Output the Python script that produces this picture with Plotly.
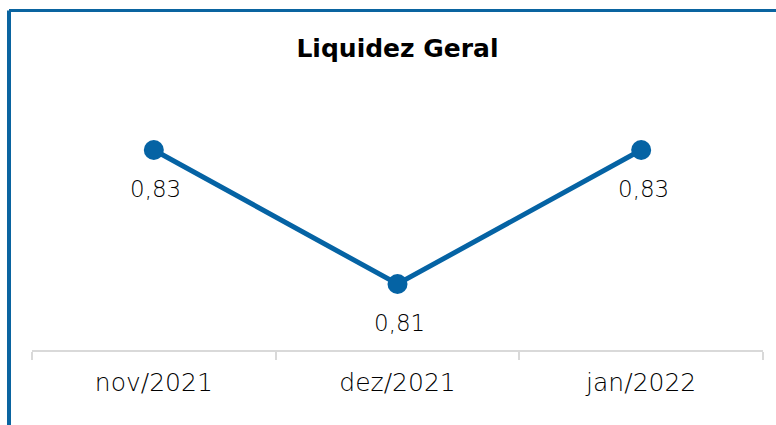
import plotly.graph_objects as go

categories = ["nov/2021", "dez/2021", "jan/2022"]
values = [0.83, 0.81, 0.83]
labels = ["0,83", "0,81", "0,83"]
title_text = "Liquidez Geral"

W, H = 776, 425
L, R, T, B = 32, 13, 100, 75
pw = W - L - R
ph = H - T - B

blue_line = "#0563A4"
blue_border = "#0A64A0"
font_family = "DejaVu Sans"
light_family = "DejaVu Sans ExtraLight, DejaVu Sans Light, DejaVu Sans"

fig = go.Figure()
fig.add_trace(go.Scatter(
    x=categories, y=values,
    mode="lines+markers",
    line=dict(color=blue_line, width=5),
    marker=dict(color=blue_line, size=20),
    hoverinfo="skip",
))
for c, v, t in zip(categories, values, labels):
    fig.add_annotation(x=c, y=v, text=t, showarrow=False,
                       yshift=-39, xshift=2,
                       font=dict(family=light_family, size=23, color="#000000"))

# border (left and top of the cropped chart frame), in paper coords
bx = (9 - L) / pw
by = (H - B - 10.5) / ph
fig.add_shape(type="line", xref="paper", yref="paper",
              x0=bx, x1=bx, y0=by, y1=-1, line=dict(color=blue_border, width=4))
fig.add_shape(type="line", xref="paper", yref="paper",
              x0=bx, x1=2, y0=by, y1=by, line=dict(color=blue_border, width=3))

fig.update_layout(
    width=W, height=H,
    margin=dict(l=L, r=R, t=T, b=B),
    paper_bgcolor="white", plot_bgcolor="white",
    showlegend=False,
    title=dict(text="<b>" + title_text + "</b>", x=0.5, xref="paper", xanchor="center",
               y=1 - 48 / H, yanchor="middle",
               font=dict(family=font_family, size=25, color="#000000")),
    xaxis=dict(type="category", range=[-0.5, 2.5], showgrid=False, zeroline=False,
               showline=True, linecolor="#d9d9d9", linewidth=1.5,
               ticks="outside", tickson="boundaries", ticklen=8, tickcolor="#d9d9d9",
               tickwidth=1.5, ticklabelstandoff=9,
               tickfont=dict(family=light_family, size=25, color="#000000")),
    yaxis=dict(visible=False, range=[0.80015, 0.83746]),
)
fig.write_html("out.html", config={"displayModeBar": False},
               post_script="document.body.style.margin='0';")
